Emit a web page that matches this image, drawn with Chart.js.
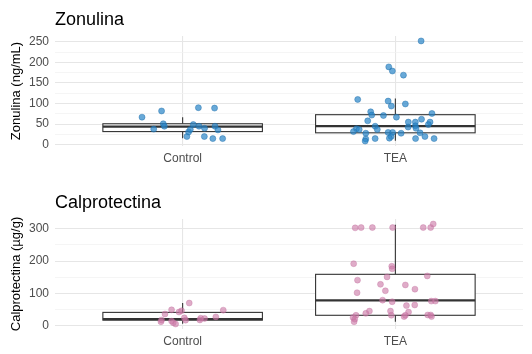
<!DOCTYPE html>
<html>
<head>
<meta charset="utf-8">
<script src="https://cdn.jsdelivr.net/npm/chart.js@4.4.0/dist/chart.umd.min.js"></script>
<style>
  html, body { margin: 0; padding: 0; background: #fff; overflow: hidden; }
  .panel { position: absolute; left: 0; width: 532px; height: 177px; }
</style>
</head>
<body>
<div class="panel" style="top:0"><canvas id="zonulina" width="532" height="177"></canvas></div>
<div class="panel" style="top:183px"><canvas id="calpro" width="532" height="177"></canvas></div>
<script>
// --- datos ---
const grupos = ['Control', 'TEA'];

// Zonulina (ng/mL)
const zonTicks = [0, 50, 100, 150, 200, 250];
const zonQ1 = [32, 29];
const zonMed = [44, 45];
const zonQ3 = [51, 73];
const zonMin = [16, 10];
const zonMax = [67, 112];
const zonCtrlJit = [-0.191, -0.136, -0.099, -0.091, -0.086, 0.020, 0.028, 0.036, 0.050, 0.074, 0.077, 0.102, 0.103, 0.142, 0.150, 0.152, 0.166, 0.188];
const zonCtrlVal = [67, 38, 82, 51, 45, 20, 31, 37, 49, 90, 45, 20, 40, 15, 89, 45, 36, 15];
const zonTeaJit = [0.121, -0.031, -0.014, 0.038, -0.177, -0.034, -0.019, 0.047, -0.116, -0.111, -0.056, 0.005, 0.172, -0.130, 0.061, 0.094, 0.123, 0.163, 0.155, -0.095, -0.085, 0.060, 0.094, 0.097, -0.183, -0.170, -0.197, -0.139, -0.034, -0.013, 0.027, -0.020, -0.028, 0.116, 0.139, 0.182, 0.095, -0.095, -0.139, -0.142];
const zonTeaVal = [252, 189, 179, 169, 110, 106, 94, 99, 80, 72, 71, 67, 76, 58, 55, 55, 62, 55, 49, 45, 37, 43, 46, 40, 39, 37, 32, 28, 30, 30, 28, 20, 16, 29, 20, 15, 15, 15, 14, 9];

// Calprotectina (µg/g)
const calTicks = [0, 100, 200, 300];
const calQ1 = [17, 32];
const calMed = [20, 78];
const calQ3 = [41, 159];
const calMin = [6, 12];
const calMax = [70, 313];
const calCtrlJit = [-0.099, -0.102, -0.083, -0.052, -0.052, -0.044, -0.033, -0.017, -0.005, 0.008, 0.014, 0.031, 0.081, 0.085, 0.103, 0.156, 0.191];
const calCtrlVal = [17.5, 12, 36, 49, 14, 9, 5, 42, 46, 24, 17, 70, 17.5, 23, 22, 27, 48];
const calTeaJit = [-0.189, -0.161, -0.108, -0.013, 0.131, 0.166, 0.178, -0.196, -0.017, -0.015, -0.039, 0.150, -0.178, -0.070, 0.047, 0.092, -0.047, -0.180, -0.060, -0.015, 0.169, 0.188, 0.052, 0.091, -0.122, -0.139, -0.023, 0.062, -0.019, 0.041, 0.047, 0.152, 0.166, 0.170, -0.185, -0.199, -0.191, -0.194];
const calTeaVal = [303, 304, 304, 304, 304, 304, 315, 192, 184, 176, 151, 154, 141, 128, 126, 113, 108, 102, 79, 74, 76, 76, 62, 64, 45, 38, 45, 42, 32, 28, 32, 33, 33, 28, 32, 25, 20, 12];

const fuente = 'Arial, "Liberation Sans", sans-serif';

// Cajas dibujadas con las escalas del propio gráfico
const cajas = {
  id: 'cajas',
  beforeDatasetsDraw(chart, args, opts) {
    const { ctx, scales: { x, y } } = chart;
    const half = opts.ancho / 2;
    opts.q1.forEach((q1, i) => {
      const c = i + 1;
      const xl = x.getPixelForValue(c - half);
      const xr = x.getPixelForValue(c + half);
      const xc = x.getPixelForValue(c);
      const y1 = y.getPixelForValue(q1);
      const y3 = y.getPixelForValue(opts.q3[i]);
      const ym = y.getPixelForValue(opts.med[i]);
      ctx.save();
      ctx.strokeStyle = '#333333';
      ctx.lineWidth = 1.1;
      ctx.beginPath();
      ctx.moveTo(xc, y.getPixelForValue(opts.min[i]));
      ctx.lineTo(xc, y1);
      ctx.moveTo(xc, y3);
      ctx.lineTo(xc, y.getPixelForValue(opts.max[i]));
      ctx.stroke();
      ctx.fillStyle = '#ffffff';
      ctx.fillRect(xl, y3, xr - xl, y1 - y3);
      ctx.strokeRect(xl, y3, xr - xl, y1 - y3);
      ctx.lineWidth = 2.2;
      ctx.beginPath();
      ctx.moveTo(xl, ym);
      ctx.lineTo(xr, ym);
      ctx.stroke();
      ctx.restore();
    });
  }
};

function puntos(jit, val, grupo) {
  return val.map((v, i) => ({ x: grupo + jit[i], y: v }));
}

function panel(id, titulo, ejeY, relleno, borde, datos, ticks, minY, maxY, stats) {
  const menores = [];
  for (let i = 0; i < ticks.length - 1; i++) menores.push((ticks[i] + ticks[i + 1]) / 2);
  const todos = ticks.concat(menores).sort((a, b) => a - b);

  new Chart(document.getElementById(id), {
    type: 'scatter',
    data: {
      datasets: datos.map(d => ({
        data: d,
        backgroundColor: relleno,
        borderColor: borde,
        borderWidth: 0.6,
        pointRadius: 3
      }))
    },
    options: {
      responsive: false,
      animation: false,
      layout: { padding: { left: 0, right: 9, top: 0, bottom: 0 } },
      plugins: {
        legend: { display: false },
        tooltip: { enabled: false },
        title: {
          display: true,
          text: titulo,
          align: 'start',
          fullSize: false,
          color: '#000000',
          font: { family: fuente, size: 18, weight: 'normal' },
          padding: { top: 9, bottom: 5.4 }
        },
        cajas: stats
      },
      scales: {
        x: {
          type: 'linear',
          min: 0.4,
          max: 2.6,
          afterBuildTicks: s => { s.ticks = [{ value: 1 }, { value: 2 }]; },
          afterFit: s => { s.height = 31; },
          border: { display: false },
          grid: { color: '#e6e6e6', lineWidth: 1.1, drawTicks: false },
          ticks: {
            autoSkip: false,
            padding: 5,
            color: '#4d4d4d',
            font: { family: fuente, size: 12 },
            callback: v => grupos[v - 1]
          }
        },
        y: {
          min: minY,
          max: maxY,
          afterBuildTicks: s => { s.ticks = todos.map(v => ({ value: v })); },
          afterFit: s => { s.width = 55; },
          border: { display: false },
          grid: {
            drawTicks: false,
            color: c => ticks.includes(c.tick.value) ? '#e6e6e6' : '#f0f0f0',
            lineWidth: c => ticks.includes(c.tick.value) ? 1.1 : 0.7
          },
          ticks: {
            autoSkip: false,
            padding: 6,
            color: '#4d4d4d',
            font: { family: fuente, size: 12 },
            callback: v => ticks.includes(v) ? String(v) : ''
          },
          title: {
            display: true,
            text: ejeY,
            color: '#000000',
            font: { family: fuente, size: 13 },
            padding: { top: 9, bottom: 0 }
          }
        }
      }
    },
    plugins: [cajas]
  });
}

panel('zonulina', 'Zonulina', 'Zonulina (ng/mL)',
  'rgba(40,133,199,0.7)', 'rgba(30,110,170,0.75)',
  [puntos(zonCtrlJit, zonCtrlVal, 1), puntos(zonTeaJit, zonTeaVal, 2)],
  zonTicks, -3, 264,
  { ancho: 0.75, q1: zonQ1, med: zonMed, q3: zonQ3, min: zonMin, max: zonMax });

panel('calpro', 'Calprotectina', 'Calprotectina (µg/g)',
  'rgba(204,121,167,0.62)', 'rgba(190,105,155,0.55)',
  [puntos(calCtrlJit, calCtrlVal, 1), puntos(calTeaJit, calTeaVal, 2)],
  calTicks, -10.5, 330.5,
  { ancho: 0.75, q1: calQ1, med: calMed, q3: calQ3, min: calMin, max: calMax });
</script>
</body>
</html>
